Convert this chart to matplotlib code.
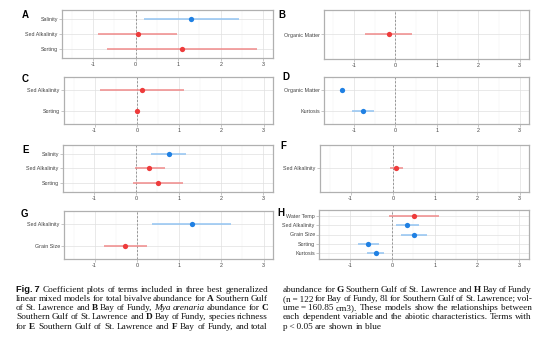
import numpy as np
import matplotlib
matplotlib.use("Agg")
import matplotlib.pyplot as plt

W, H = 554, 346
DPI = 100

# coefficient estimates and 95% intervals per model (first term drawn on top)
a_terms = ["Salinity", "Sed Alkalinity", "Sorting"]
a_est = [1.30, 0.05, 1.08]
a_lo = [0.19, -0.89, -0.68]
a_hi = [2.42, 0.98, 2.84]
a_sig = [True, False, False]

b_terms = ["Organic Matter"]
b_est = [-0.16]
b_lo = [-0.74]
b_hi = [0.40]
b_sig = [False]

c_terms = ["Sed Alkalinity", "Sorting"]
c_est = [0.13, 0.00]
c_lo = [-0.87, -0.02]
c_hi = [1.11, 0.02]
c_sig = [False, False]

d_terms = ["Organic Matter", "Kurtosis"]
d_est = [-1.29, -0.78]
d_lo = [-1.32, -1.05]
d_hi = [-1.26, -0.51]
d_sig = [True, True]

e_terms = ["Salinity", "Sed Alkalinity", "Sorting"]
e_est = [0.77, 0.31, 0.52]
e_lo = [0.36, -0.02, -0.08]
e_hi = [1.18, 0.67, 1.11]
e_sig = [True, False, False]

f_terms = ["Sed Alkalinity"]
f_est = [0.08]
f_lo = [-0.07]
f_hi = [0.23]
f_sig = [False]

g_terms = ["Sed Alkalinity", "Grain Size"]
g_est = [1.30, -0.28]
g_lo = [0.36, -0.78]
g_hi = [2.23, 0.24]
g_sig = [True, False]

h_terms = ["Water Temp", "Sed Alkalinity", "Grain Size", "Sorting", "Kurtosis"]
h_est = [0.52, 0.35, 0.52, -0.56, -0.39]
h_lo = [-0.07, 0.08, 0.20, -0.80, -0.59]
h_hi = [1.10, 0.63, 0.82, -0.32, -0.19]
h_sig = [False, True, True, True, True]

x_ticks = [-1, 0, 1, 2, 3]

RED, RED_LN = "#EE3B3B", "#F08A8A"
BLUE, BLUE_LN = "#1F80E3", "#92C4F2"

SANS = ["Liberation Sans", "DejaVu Sans"]
SERIF = ["Liberation Serif", "DejaVu Serif"]

fig = plt.figure(figsize=(W / DPI, H / DPI), dpi=DPI)
fig.patch.set_facecolor("white")


def px_axes(l, t, r, b):
    return fig.add_axes([l / W, 1 - b / H, (r - l) / W, (b - t) / H])


def coef_panel(ax, terms, est, lo, hi, sig):
    n = len(terms)
    ypos = np.arange(n, 0, -1)
    for y, e, l, h, s in zip(ypos, est, lo, hi, sig):
        ax.hlines(y, l, h, color=BLUE_LN if s else RED_LN, lw=1.1, zorder=3)
        ax.plot(e, y, "o", ms=3.8, color=BLUE if s else RED, mec="none", zorder=4)
    ax.axvline(0, color="#8A8A8A", lw=0.6, ls=(0, (2.5, 2)), zorder=2)
    ax.set_xlim(-1.725, 3.225)
    ax.set_ylim(0.4, n + 0.6)
    ax.set_xticks(x_ticks)
    ax.set_xticklabels([str(v) for v in x_ticks])
    ax.set_xticks(np.arange(-1.5, 3.01, 0.5), minor=True)
    ax.set_yticks(ypos)
    ax.set_yticklabels(terms)
    ax.grid(which="major", color="#E0E0E0", lw=0.5, zorder=0)
    ax.grid(which="minor", axis="x", color="#F0F0F0", lw=0.35, zorder=0)
    ax.set_axisbelow(True)
    for sp in ax.spines.values():
        sp.set_color("#B0B0B0")
        sp.set_linewidth(0.9)
    ax.tick_params(which="major", length=2, width=0.5, color="#B0B0B0",
                   labelsize=3.9, labelcolor="#444444", pad=1)
    ax.tick_params(which="minor", length=0)
    for lab in ax.get_xticklabels() + ax.get_yticklabels():
        lab.set_family(SANS)


panels = [
    ("A", (62, 10, 273, 58), (22, 15), a_terms, a_est, a_lo, a_hi, a_sig),
    ("B", (324, 10, 529, 59), (278, 15), b_terms, b_est, b_lo, b_hi, b_sig),
    ("C", (64, 77, 273, 124), (22, 79), c_terms, c_est, c_lo, c_hi, c_sig),
    ("D", (324, 77, 529, 124), (282, 77), d_terms, d_est, d_lo, d_hi, d_sig),
    ("E", (63, 145, 273, 192), (22, 150), e_terms, e_est, e_lo, e_hi, e_sig),
    ("F", (320, 145, 529, 192), (280, 146), f_terms, f_est, f_lo, f_hi, f_sig),
    ("G", (64, 211, 273, 259), (21, 214), g_terms, g_est, g_lo, g_hi, g_sig),
    ("H", (319, 210, 529, 259), (277, 213), h_terms, h_est, h_lo, h_hi, h_sig),
]

for letter, box, lpos, terms, est, lo, hi, sig in panels:
    ax = px_axes(*box)
    coef_panel(ax, terms, est, lo, hi, sig)
    fig.text(lpos[0] / W, 1 - lpos[1] / H, letter, family=SANS, weight="bold",
             fontsize=7, ha="left", va="center")

# caption, two justified columns
left_col = [
    [("Fig.\u20097", "S"), ("Coefficient plots of terms included in three best generalized", "r")],
    [("linear mixed models for total bivalve abundance for", "r"), ("A", "b"), ("Southern Gulf", "r")],
    [("of St. Lawrence and", "r"), ("B", "b"), ("Bay of Fundy,", "r"), ("Mya arenaria", "i"),
     ("abundance for", "r"), ("C", "b")],
    [("Southern Gulf of St. Lawrence and", "r"), ("D", "b"), ("Bay of Fundy, species richness", "r")],
    [("for", "r"), ("E", "b"), ("Southern Gulf of St. Lawrence and", "r"), ("F", "b"),
     ("Bay of Fundy, and total", "r")],
]
right_col = [
    [("abundance for", "r"), ("G", "b"), ("Southern Gulf of St. Lawrence and", "r"), ("H", "b"),
     ("Bay of Fundy", "r")],
    [("(n\u2009=\u2009122 for Bay of Fundy, 81 for Southern Gulf of St. Lawrence; vol-", "r")],
    [("ume\u2009=\u2009160.85 cm3). These models show the relationships between", "r")],
    [("each dependent variable and the abiotic characteristics. Terms with", "r")],
    [("p\u2009<\u20090.05 are shown in blue", "r")],
]

STYLES = {
    "r": dict(family=SERIF),
    "b": dict(family=SERIF, weight="bold"),
    "i": dict(family=SERIF, style="italic"),
    "S": dict(family=SANS, weight="bold"),
}
CAP_SIZE = 6.7
renderer = fig.canvas.get_renderer()


def caption_line(x0, x1, y, chunks, justify):
    words = []
    for txt, st in chunks:
        for w in txt.split(" "):
            words.append((w, st))
    objs = []
    widths = []
    for w, st in words:
        t = fig.text(0, 1 - y / H, w, fontsize=CAP_SIZE, va="baseline", ha="left",
                     color="#111111", **STYLES[st])
        objs.append(t)
        widths.append(t.get_window_extent(renderer).width)
    space = CAP_SIZE * DPI / 72 * 0.25
    if justify and len(words) > 1:
        gap = max((x1 - x0 - sum(widths)) / (len(words) - 1), space * 0.5)
    else:
        gap = space
    x = x0
    for t, wd in zip(objs, widths):
        t.set_x(x / W)
        x += wd + gap


base0, step = 291.5, 9.3
for i, line in enumerate(left_col):
    caption_line(16, 268, base0 + i * step, line, True)
for i, line in enumerate(right_col):
    caption_line(283, 532, base0 + i * step, line, i < len(right_col) - 1)

fig.savefig("out.png", dpi=DPI, facecolor="white")
